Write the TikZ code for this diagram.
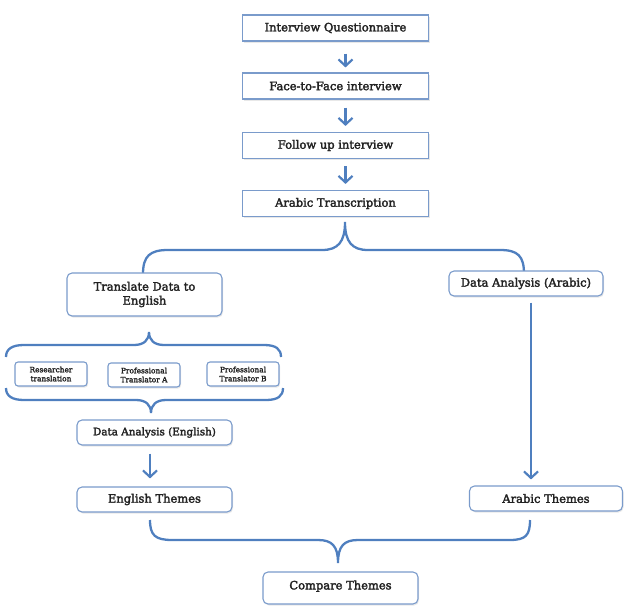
\documentclass[tikz,border=0pt]{standalone}
\usepackage{fontspec}
\setmainfont{DejaVu Serif}
\newfontfamily\boxfont{DejaVu Serif}[FakeBold=2.5]
\usetikzlibrary{arrows.meta,shadows}
\definecolor{bord}{HTML}{7A9BCB}
\definecolor{arrc}{HTML}{4F7FBF}
\definecolor{txt}{HTML}{222222}
\tikzset{
  box/.style={draw=bord, line width=1.1pt, fill=white, align=center, inner sep=1pt, text=txt,
     drop shadow={opacity=0.18, shadow xshift=1pt, shadow yshift=-1.5pt},
     font=\boxfont\fontsize{11.5}{14}\selectfont},
  rbox/.style={box, rounded corners=5pt},
  sbox/.style={rbox, rounded corners=3pt, font=\boxfont\fontsize{7.4}{9}\selectfont},
  arr/.style={draw=arrc, line width=2.2pt, -{Straight Barb[length=6.5pt,width=14pt,line width=2.2pt]}},
  brace/.style={draw=arrc, line width=2.3pt}
}
\begin{document}
\begin{tikzpicture}[x=1pt,y=-1pt]
\useasboundingbox (0,0) rectangle (635,613);
% top chain
\node[box, minimum width=186pt, minimum height=26pt] (q) at (335.5,28) {Interview Questionnaire};
\node[box, minimum width=186pt, minimum height=26pt] (f) at (335.5,86) {Face-to-Face interview};
\node[box, minimum width=186pt, minimum height=26pt] (fu) at (335.5,145.5) {Follow up interview};
\node[box, minimum width=186pt, minimum height=26pt] (at) at (335.5,203.5) {Arabic Transcription};
\draw[arr] ([xshift=10pt,yshift=-12pt]q.south) -- ([xshift=10pt,yshift=5pt]f.north);
\draw[arr] ([xshift=10pt,yshift=-8pt]f.south) -- ([xshift=10pt,yshift=6pt]fu.north);
\draw[arr] ([xshift=10pt,yshift=-7pt]fu.south) -- ([xshift=10pt,yshift=6pt]at.north);
% big brace
\draw[brace] (143,274) .. controls (143,256) and (150,250) .. (168,250) -- (322,250)
  .. controls (338,250) and (345,242) .. (345,222)
  .. controls (345,242) and (352,250) .. (368,250) -- (500,250)
  .. controls (518,250) and (524,256) .. (524,274);
% left branch
\node[rbox, minimum width=155pt, minimum height=43pt] (tr) at (144.5,294.5) {Translate Data to\\English};
\node[rbox, minimum width=154pt, minimum height=25pt] (daa) at (526,283.5) {Data Analysis (Arabic)};
% small brace top (tip up)
\draw[brace] (6,357) .. controls (6,349) and (12,345) .. (24,345) -- (134,345)
  .. controls (144,345) and (149,340) .. (149,332)
  .. controls (149,340) and (154,345) .. (164,345) -- (264,345)
  .. controls (276,345) and (281,349) .. (281,357);
\node[sbox, minimum width=72pt, minimum height=24pt] (rt) at (51,374) {Researcher\\translation};
\node[sbox, minimum width=72pt, minimum height=24pt] (pa) at (144,375) {Professional\\Translator A};
\node[sbox, minimum width=72pt, minimum height=24pt] (pb) at (243,374) {Professional\\Translator B};
% small brace bottom (tip down)
\draw[brace] (6,388) .. controls (6,396) and (12,400) .. (24,400) -- (136,400)
  .. controls (146,400) and (151,405) .. (151,413)
  .. controls (151,405) and (156,400) .. (166,400) -- (266,400)
  .. controls (278,400) and (283,396) .. (283,388);
\node[rbox, minimum width=155pt, minimum height=25pt, font=\boxfont\fontsize{10.4}{12}\selectfont] (dae) at (154.5,432.5) {Data Analysis (English)};
\node[rbox, minimum width=155pt, minimum height=25pt] (et) at (154.5,499.5) {English Themes};
\node[rbox, minimum width=153pt, minimum height=25pt] (ath) at (546,498.5) {Arabic Themes};
\draw[arr] ([xshift=-4.5pt,yshift=-8pt]dae.south) -- ([xshift=-4.5pt,yshift=8pt]et.north);
\draw[arr] ([xshift=5pt,yshift=-6pt]daa.south) -- ([xshift=-15pt,yshift=6pt]ath.north);
% bottom brace
\draw[brace] (150,520) .. controls (150,535) and (155,540) .. (172,540) -- (318,540)
  .. controls (332,540) and (338,546) .. (338,563)
  .. controls (338,546) and (344,540) .. (358,540) -- (510,540)
  .. controls (526,540) and (530,535) .. (530,520);
\node[rbox, minimum width=155pt, minimum height=32pt, text depth=6pt] (ct) at (340.5,588) {Compare Themes};
\end{tikzpicture}
\end{document}
